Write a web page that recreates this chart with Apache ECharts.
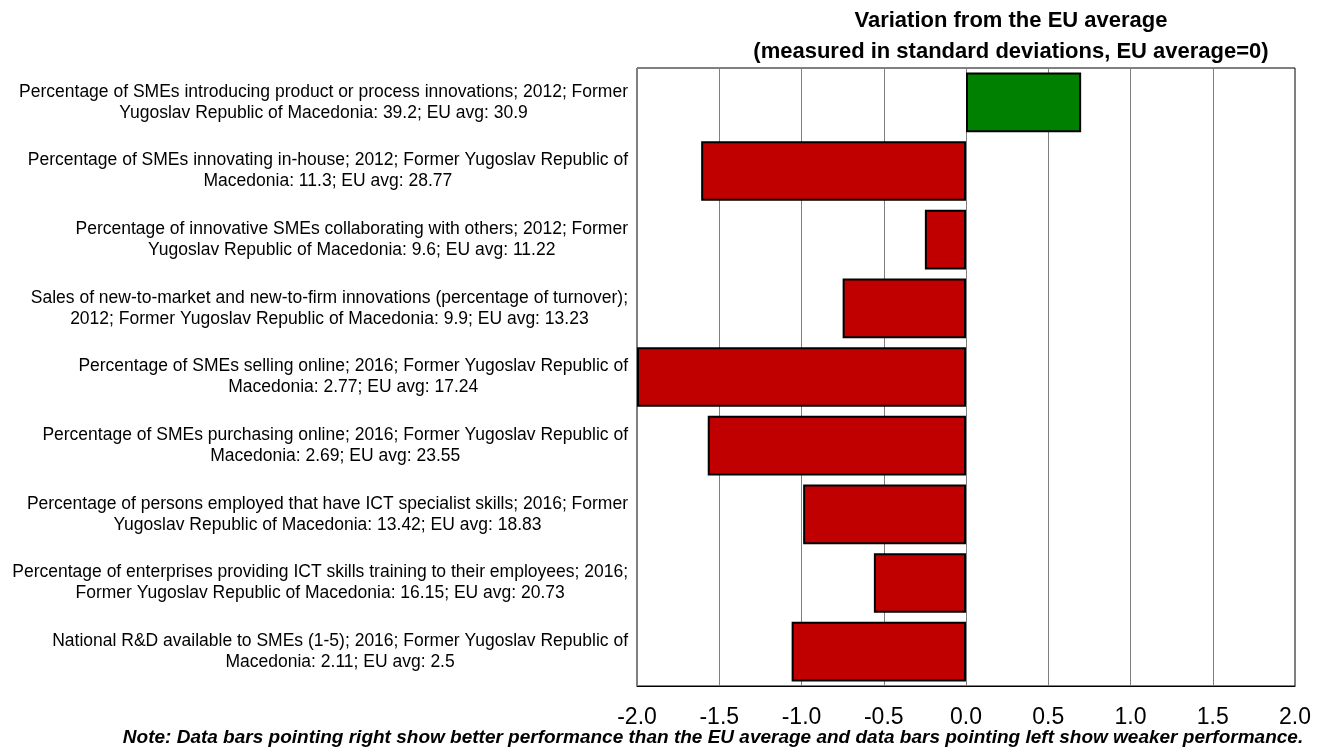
<!DOCTYPE html>
<html>
<head>
<meta charset="utf-8">
<script src="https://cdn.jsdelivr.net/npm/echarts@6/dist/echarts.min.js"></script>
<style>
  html, body { margin: 0; padding: 0; background: #fff; }
  #chart { width: 1327px; height: 753px; }
</style>
</head>
<body>
<div id="chart"></div>
<script>
// 指标名称（按图中的换行）
const categories = [
  "Percentage of SMEs introducing product or process innovations; 2012; Former\nYugoslav Republic of Macedonia: 39.2; EU avg: 30.9",
  "Percentage of SMEs innovating in-house; 2012; Former Yugoslav Republic of\nMacedonia: 11.3; EU avg: 28.77",
  "Percentage of innovative SMEs collaborating with others; 2012; Former\nYugoslav Republic of Macedonia: 9.6; EU avg: 11.22",
  "Sales of new-to-market and new-to-firm innovations (percentage of turnover);\n2012; Former Yugoslav Republic of Macedonia: 9.9; EU avg: 13.23",
  "Percentage of SMEs selling online; 2016; Former Yugoslav Republic of\nMacedonia: 2.77; EU avg: 17.24",
  "Percentage of SMEs purchasing online; 2016; Former Yugoslav Republic of\nMacedonia: 2.69; EU avg: 23.55",
  "Percentage of persons employed that have ICT specialist skills; 2016; Former\nYugoslav Republic of Macedonia: 13.42; EU avg: 18.83",
  "Percentage of enterprises providing ICT skills training to their employees; 2016;\nFormer Yugoslav Republic of Macedonia: 16.15; EU avg: 20.73",
  "National R&D available to SMEs (1-5); 2016; Former Yugoslav Republic of\nMacedonia: 2.11; EU avg: 2.5"
];
// 与欧盟平均的偏差（标准差）
const values = [0.70, -1.61, -0.25, -0.75, -2.0, -1.57, -0.99, -0.56, -1.06];
// x轴刻度
const xTicks = [-2.0, -1.5, -1.0, -0.5, 0.0, 0.5, 1.0, 1.5, 2.0];

const titleText = "Variation from the EU average\n(measured in standard deviations, EU average=0)";
const noteText = "Note: Data bars pointing right show better performance than the EU average and data bars pointing left show weaker performance.";

const font = "'Liberation Sans', Arial, sans-serif";

const chart = echarts.init(document.getElementById("chart"), null, { renderer: "canvas" });

const option = {
  backgroundColor: "#fff",
  animation: false,
  title: {
    text: titleText,
    left: 1006,
    top: 0,
    textAlign: "center",
    textStyle: {
      fontFamily: font,
      fontWeight: "bold",
      fontSize: 22,
      lineHeight: 31,
      color: "#000"
    }
  },
  graphic: [
    {
      type: "text",
      x: 713,
      y: 738,
      style: {
        text: noteText,
        font: "italic bold 19px " + font,
        fill: "#000",
        align: "center",
        verticalAlign: "middle"
      }
    }
  ],
  grid: {
    left: 637,
    right: 32,
    top: 68,
    bottom: 67,
    show: true,
    borderColor: "#000",
    borderWidth: 1,
    containLabel: false
  },
  xAxis: {
    type: "value",
    min: -2,
    max: 2,
    interval: 0.5,
    axisLine: { show: true, lineStyle: { color: "#000", width: 1 } },
    axisTick: { show: false },
    splitLine: { show: true, lineStyle: { color: "#7f7f7f", width: 1 } },
    axisLabel: {
      margin: 20,
      fontFamily: font,
      fontSize: 23,
      color: "#000",
      formatter: v => {
        const t = xTicks.find(x => Math.abs(x - v) < 1e-9);
        return (t === undefined ? v : t).toFixed(1);
      }
    }
  },
  yAxis: {
    type: "category",
    inverse: true,
    data: categories,
    axisLine: { show: false },
    axisTick: { show: false },
    splitLine: { show: false },
    axisLabel: {
      margin: 9,
      interval: 0,
      color: "#000",
      formatter: v => v.split("\n").map(l => "{c|" + l + "}").join("\n"),
      rich: {
        c: {
          fontFamily: font,
          fontSize: 17.5,
          lineHeight: 21,
          align: "center",
          color: "#000"
        }
      }
    }
  },
  series: [
    {
      type: "bar",
      data: values.map(v => ({
        value: v,
        itemStyle: { color: v >= 0 ? "#008000" : "#c00000" }
      })),
      barCategoryGap: "13%",
      itemStyle: { borderColor: "#000", borderWidth: 2 },
      clip: true
    }
  ]
};

chart.setOption(option);
window.addEventListener("resize", () => chart.resize());
</script>
</body>
</html>
